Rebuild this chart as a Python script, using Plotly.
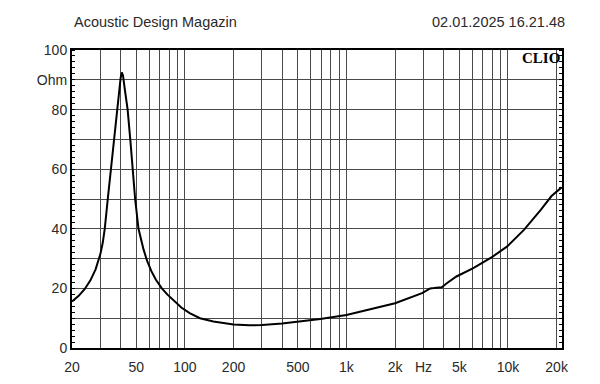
import plotly.graph_objects as go
import math

# --- data ---
freq_hz = [20, 22, 24, 26, 28, 29.1, 30, 31.0, 31.9, 33.3, 34.8, 36.4, 38.0, 39.1, 40.0, 40.7, 41.4, 42.4,
           44.2, 45.9, 47.5, 49.2, 51.6, 53.5, 55.5, 58.3, 62, 66, 72, 78, 84.5, 95, 107, 124, 150, 200, 250,
           300, 400, 519, 689, 1000, 1350, 2000, 2940, 3300, 3480, 3890, 4200, 4800, 6100,
           8000, 9900, 12600, 16000, 18600, 21500]
impedance_ohm = [15.6, 17.5, 19.8, 22.7, 26.4, 29.2, 31.6, 35.3, 40.0, 50.0, 60.0, 70.0, 80.0, 86.0, 90.6, 92.5, 91.4, 87.0,
                 80.0, 70.0, 60.0, 50.0, 40.0, 36.3, 33.0, 29.3, 25.8, 23.0, 20.0, 17.9, 16.1, 13.6, 11.7, 10.0, 8.9, 7.9, 7.6,
                 7.7, 8.2, 8.9, 9.75, 11.1, 12.8, 15.0, 18.4, 20.0, 20.1, 20.4, 21.8, 24.0, 26.8,
                 30.6, 34.1, 39.7, 46.4, 51.0, 53.9]

x_grid = [20, 30, 40, 50, 60, 70, 80, 90, 100, 200, 300, 400, 500, 600, 700, 800, 900,
          1000, 2000, 3000, 4000, 5000, 6000, 7000, 8000, 9000, 10000, 20000]
x_labels = {20: "20", 50: "50", 100: "100", 200: "200", 500: "500", 1000: "1k",
            2000: "2k", 3000: "Hz", 5000: "5k", 10000: "10k", 20000: "20k"}
y_grid = [0, 10, 20, 30, 40, 50, 60, 70, 80, 90, 100]
y_labels = {0: "0", 20: "20", 40: "40", 60: "60", 80: "80", 90: "Ohm", 100: "100"}

title_left = "Acoustic Design Magazin"
title_right = "02.01.2025 16.21.48"
brand = "CLIO"

FONT = "Liberation Sans, Arial, sans-serif"
TXT = "#2a2a2a"
GRID = "#4a4a4a"

fig = go.Figure()
fig.add_trace(go.Scatter(x=freq_hz, y=impedance_ohm, mode="lines",
                         line=dict(color="black", width=2),
                         hoverinfo="skip", showlegend=False))

fig.update_layout(
    width=600, height=384,
    margin=dict(l=64, r=46, t=42, b=44),
    paper_bgcolor="white", plot_bgcolor="white",
    font=dict(family=FONT, size=14, color=TXT),
    showlegend=False,
)

fig.update_xaxes(
    type="log", range=[math.log10(20), math.log10(21600)],
    tickmode="array", tickvals=x_grid,
    ticktext=[x_labels.get(v, "") for v in x_grid],
    showgrid=True, gridcolor=GRID, gridwidth=1,
    showline=True, linecolor="black", linewidth=2, mirror=True,
    ticks="", ticklabelstandoff=5,
    tickfont=dict(family=FONT, size=14, color=TXT),
    zeroline=False,
)
fig.update_yaxes(
    range=[0, 100],
    tickmode="array", tickvals=y_grid,
    ticktext=[y_labels.get(v, "") for v in y_grid],
    showgrid=True, gridcolor=GRID, gridwidth=1,
    showline=True, linecolor="black", linewidth=2, mirror="allticks",
    ticks="", ticklabelstandoff=0,
    minor=dict(tickmode="linear", tick0=0, dtick=2, ticks="inside", ticklen=3,
               tickcolor="black", tickwidth=1, showgrid=False),
    tickfont=dict(family=FONT, size=14, color=TXT),
    zeroline=False,
)

fig.add_annotation(text=title_left, xref="paper", yref="paper", x=0, y=(348 - 22) / 298,
                   xanchor="left", yanchor="middle", showarrow=False,
                   font=dict(family=FONT, size=14.5, color=TXT))
fig.add_annotation(text=title_right, xref="paper", yref="paper", x=1.01, y=(348 - 22) / 298,
                   xanchor="right", yanchor="middle", showarrow=False,
                   font=dict(family=FONT, size=14.5, color=TXT))
fig.add_annotation(text="<b>" + brand + "</b>", xref="paper", yref="paper", x=1.0,
                   y=(348 - 58) / 298, xanchor="right", yanchor="middle", showarrow=False,
                   font=dict(family="Liberation Serif, Times New Roman, serif", size=15, color="black"))

fig.write_html("out.html")
